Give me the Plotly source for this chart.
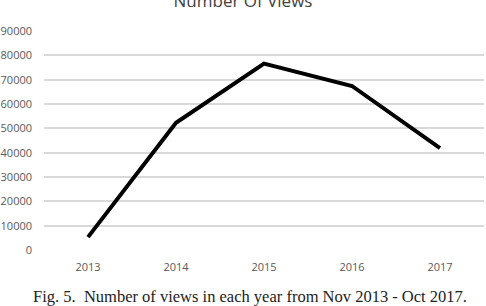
import plotly.graph_objects as go

years = ["2013", "2014", "2015", "2016", "2017"]
views = [5300, 52300, 76600, 67400, 41900]
y_ticks = [0, 10000, 20000, 30000, 40000, 50000, 60000, 70000, 80000, 90000]

fig = go.Figure()
fig.add_trace(go.Scatter(x=years, y=views, mode="lines",
                         line=dict(color="black", width=4), showlegend=False))

plot_h = 306 - 31 - 56
plot_w = 486 - 44 - 2

fig.update_layout(
    width=486, height=306,
    margin=dict(l=44, r=2, t=31, b=56, autoexpand=False),
    paper_bgcolor="white", plot_bgcolor="white",
    title=dict(text="Number Of Views", x=0.5, xanchor="center",
               y=0.995, yref="container", yanchor="middle",
               font=dict(family="Open Sans", size=17, color="#404040")),
    xaxis=dict(type="category", range=[-0.5, 4.5], showgrid=False, zeroline=False,
               showline=False, automargin=False,
               tickfont=dict(family="Open Sans", size=11, color="#595959"),
               ticks="", ticklabelstandoff=9),
    yaxis=dict(range=[0, 90000], tickvals=y_ticks, ticktext=[str(v) for v in y_ticks],
               showgrid=True, gridcolor="#d9d9d9", gridwidth=1.5, zeroline=False,
               showline=False, ticks="", automargin=False,
               tickfont=dict(family="Open Sans", size=11, color="#595959"),
               ticklabelstandoff=11),
    annotations=[dict(text="Fig. 5.  Number of views in each year from Nov 2013 - Oct 2017.",
                      x=(250 - 44) / plot_w, y=(250 - 296) / plot_h,
                      xref="paper", yref="paper", showarrow=False, yanchor="middle",
                      font=dict(family="Liberation Serif", size=16.5, color="#222222"))],
)

fig.write_html("out.html")
